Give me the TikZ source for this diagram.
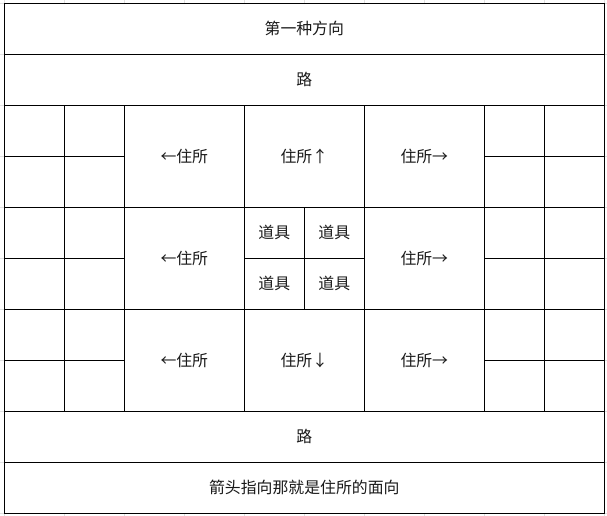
\documentclass[tikz,border=0pt]{standalone}
\usepackage{fontspec}
\setmainfont{Noto Sans CJK SC}

\begin{document}
\begin{tikzpicture}[x=0.75pt,y=-0.75pt,line width=0.85pt,
  cell/.style={text=black!90,font=\fontsize{11.9}{14}\selectfont,inner sep=0pt},
  sheet/.style={black!12,line width=0.5pt}]
\useasboundingbox (0,0) rectangle (607,516);
\foreach \x in {4.3,64.3,...,604.3} \draw[sheet] (\x,0) -- (\x,516);
\foreach \y in {3.3,54.3,...,513.3} \draw[sheet] (0,\y) -- (607,\y);
\fill[white] (4.3,3.3) rectangle (604.3,513.3);
\draw (4.3,3.3) rectangle (604.3,513.3);
\foreach \y in {54.3,105.3,207.3,309.3,411.3,462.3} \draw (4.3,\y) -- (604.3,\y);
\foreach \x in {64.3,124.3,244.3,364.3,484.3,544.3} \draw (\x,105.3) -- (\x,411.3);
\foreach \y in {156.3,258.3,360.3} {
  \draw (4.3,\y) -- (124.3,\y);
  \draw (484.3,\y) -- (604.3,\y);
}
\draw (304.3,207.3) -- (304.3,309.3);
\draw (244.3,258.3) -- (364.3,258.3);
\node[cell] (title) at (304.3,28.8) {第一种方向};
\node[cell] (roadN) at (304.3,79.8) {路};
\node[cell] (homeW1) at (184.3,156.3) {←住所};
\node[cell] (homeN) at (304.3,156.3) {住所↑};
\node[cell] (homeE1) at (424.3,156.3) {住所→};
\node[cell] (homeW2) at (184.3,258.3) {←住所};
\node[cell] (tool1) at (274.3,232.8) {道具};
\node[cell] (tool2) at (334.3,232.8) {道具};
\node[cell] (tool3) at (274.3,283.8) {道具};
\node[cell] (tool4) at (334.3,283.8) {道具};
\node[cell] (homeE2) at (424.3,258.3) {住所→};
\node[cell] (homeW3) at (184.3,360.3) {←住所};
\node[cell] (homeS) at (304.3,360.3) {住所↓};
\node[cell] (homeE3) at (424.3,360.3) {住所→};
\node[cell] (roadS) at (304.3,436.8) {路};
\node[cell] (note) at (304.3,487.8) {箭头指向那就是住所的面向};
\end{tikzpicture}
\end{document}
